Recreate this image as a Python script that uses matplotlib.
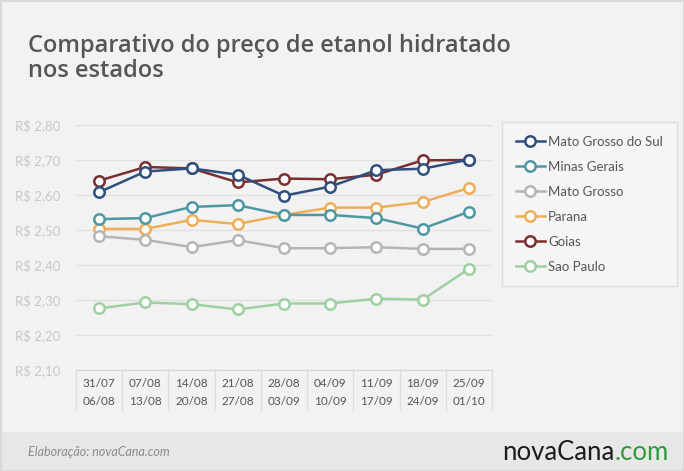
import matplotlib.pyplot as plt
from matplotlib.patches import Rectangle
from matplotlib.lines import Line2D
import matplotlib.transforms as mtransforms

plt.rcParams["font.family"] = ["Lato", "DejaVu Sans"]

# dados
semanas_inicio = ["31/07", "07/08", "14/08", "21/08", "28/08", "04/09", "11/09", "18/09", "25/09"]
semanas_fim = ["06/08", "13/08", "20/08", "27/08", "03/09", "10/09", "17/09", "24/09", "01/10"]

mato_grosso_do_sul = [2.608, 2.667, 2.676, 2.658, 2.598, 2.624, 2.671, 2.675, 2.701]
minas_gerais = [2.531, 2.534, 2.566, 2.571, 2.543, 2.543, 2.534, 2.504, 2.552]
mato_grosso = [2.482, 2.472, 2.451, 2.471, 2.448, 2.448, 2.451, 2.446, 2.446]
parana = [2.503, 2.503, 2.529, 2.517, 2.543, 2.564, 2.564, 2.580, 2.620]
goias = [2.641, 2.680, 2.676, 2.636, 2.647, 2.645, 2.658, 2.699, 2.700]
sao_paulo = [2.276, 2.293, 2.288, 2.273, 2.290, 2.290, 2.304, 2.301, 2.389]

y_ticks = [2.10, 2.20, 2.30, 2.40, 2.50, 2.60, 2.70, 2.80]

series = [
    ("Mato Grosso do Sul", mato_grosso_do_sul, "#2f4f7f"),
    ("Minas Gerais", minas_gerais, "#4e97a3"),
    ("Mato Grosso", mato_grosso, "#b5b5b5"),
    ("Parana", parana, "#f0ad58"),
    ("Goias", goias, "#7b2e30"),
    ("Sao Paulo", sao_paulo, "#9fd0a2"),
]

W, H = 684, 471
fig = plt.figure(figsize=(W / 100, H / 100), dpi=100, facecolor="#f2f2f2")

# faixa do rodape e borda
fig.patches.append(Rectangle((0, 0), 1, 39 / H, transform=fig.transFigure,
                             facecolor="#e7e7e7", edgecolor="none", zorder=0))
fig.patches.append(Rectangle((0.5 / W, 0.5 / H), 1 - 1 / W, 1 - 1 / H, transform=fig.transFigure,
                             facecolor="none", edgecolor="#d8d8d8", lw=1.5, zorder=1))

ax = fig.add_axes([76 / W, 1 - 370 / H, 416 / W, 245 / H])
ax.set_facecolor("#f2f2f2")
x = list(range(len(semanas_inicio)))

for nome, valores, cor in reversed(series):
    ax.plot(x, valores, color=cor, lw=1.8, marker="o", ms=7.5, mfc="white",
            mec=cor, mew=1.8, clip_on=False, zorder=3)

ax.set_xlim(-0.5, len(x) - 0.5)
ax.set_ylim(2.10, 2.80)
ax.set_yticks(y_ticks)
ax.set_yticklabels([f"R$ {v:.2f}".replace(".", ",") for v in y_ticks])
ax.yaxis.grid(True, color="#e0e0e0", lw=1)
ax.set_axisbelow(True)
for lado in ["top", "right", "left"]:
    ax.spines[lado].set_visible(False)
ax.spines["bottom"].set_color("#d6d6d6")
ax.tick_params(axis="y", length=0, pad=11, labelsize=9.5, labelcolor="#c8c8c8")
ax.set_xticks(x)
ax.set_xticklabels([f"{a}\n{b}" for a, b in zip(semanas_inicio, semanas_fim)],
                   linespacing=1.75)
ax.tick_params(axis="x", length=0, pad=6, labelsize=8.5, labelcolor="#555555")

# separadores das colunas de datas
trans = mtransforms.blended_transform_factory(ax.transData, ax.transAxes)
for xs in [i - 0.5 for i in range(len(x) + 1)]:
    ax.plot([xs, xs], [0, -40 / 245], transform=trans, color="#dedede", lw=1, clip_on=False)

# legenda
handles = [Line2D([0], [0], color=c, lw=1.8, marker="o", ms=7.5, mfc="white", mec=c, mew=1.8)
           for _, _, c in series]
leg = fig.legend(handles, [n for n, _, _ in series], loc="upper left",
                 bbox_to_anchor=(502 / W, 1 - 122 / H), fontsize=9.5, frameon=True,
                 fancybox=False, labelspacing=0.98, handlelength=2.2, handletextpad=0.25,
                 borderpad=1.05, borderaxespad=0)
leg.get_frame().set_facecolor("#f7f7f7")
leg.get_frame().set_edgecolor("#d9d9d9")
for t in leg.get_texts():
    t.set_color("#555555")

# titulo
fonte_titulo = dict(fontsize=17, color="#555555", ha="left", va="baseline",
                    fontweight="semibold", family=["Open Sans", "DejaVu Sans"])
fig.text(28 / W, 1 - 52 / H, "Comparativo do preço de etanol hidratado", **fonte_titulo)
fig.text(28 / W, 1 - 77 / H, "nos estados", **fonte_titulo)

# rodape
fig.text(28 / W, 1 - 452 / H, "Elaboração: novaCana.com", fontsize=9, style="italic",
         color="#8a8a8a", ha="left", va="center")
logo = fig.text(502 / W, 1 - 452 / H, "novaCana", fontsize=18.5, color="#1c1c1c",
                ha="left", va="center")
fig.canvas.draw()
bb = logo.get_window_extent()
fig.text(bb.x1 / W, 1 - 452 / H, ".com", fontsize=18.5, color="#2f9a3f",
         ha="left", va="center")

fig.savefig("out.png", dpi=100, facecolor=fig.get_facecolor())
